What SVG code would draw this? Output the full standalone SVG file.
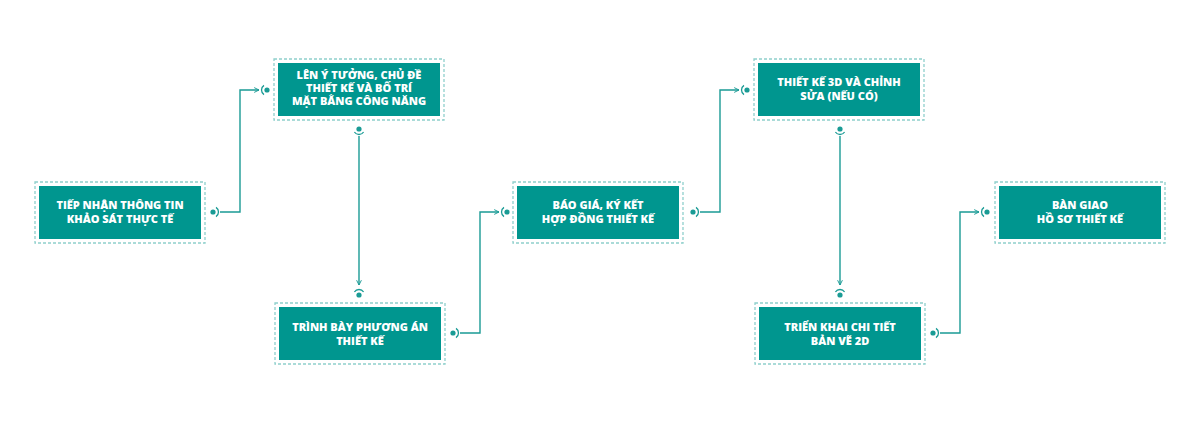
<svg xmlns="http://www.w3.org/2000/svg" xmlns:xlink="http://www.w3.org/1999/xlink" width="1200" height="425" viewBox="0 0 1200 425">
<style>
.outer{fill:none;stroke:#8fcfcc;stroke-width:1.3;stroke-dasharray:3 2}
.inner{fill:#00968f}
.lbl{font-family:"Open Sans","Liberation Sans",sans-serif;font-weight:800;font-size:11px;fill:#ffffff;text-anchor:middle}
.conn{fill:none;stroke:#1a9b95;stroke-width:1.4}
.port-dot{fill:#1a9b95}
.port-arc{fill:none;stroke:#1a9b95;stroke-width:1.3}
</style>
<defs>
<marker id="arr" viewBox="0 0 10 10" refX="9" refY="5" markerWidth="6" markerHeight="6" markerUnits="userSpaceOnUse" orient="auto">
<path d="M1,1 L9,5 L1,9" fill="none" stroke="#1a9b95" stroke-width="1.6"/>
</marker>
<g id="port">
<circle class="port-dot" cx="0" cy="0" r="2.6"/>
<path class="port-arc" d="M3,-4.6 A5.5,5.5 0 0 1 3,4.6"/>
</g>
</defs>
<rect width="1200" height="425" fill="#ffffff"/>
<g id="connectors">
<path class="conn" d="M220,212 H240 V90 H259" marker-end="url(#arr)"/>
<path class="conn" d="M359,136 V285" marker-end="url(#arr)"/>
<path class="conn" d="M460,333 H480 V212 H499" marker-end="url(#arr)"/>
<path class="conn" d="M700,212 H720 V90 H739" marker-end="url(#arr)"/>
<path class="conn" d="M840,136 V285" marker-end="url(#arr)"/>
<path class="conn" d="M940,333 H960 V212 H979" marker-end="url(#arr)"/>
<use xlink:href="#port" transform="translate(213,212)"/>
<use xlink:href="#port" transform="translate(267,90) rotate(180)"/>
<use xlink:href="#port" transform="translate(359,129) rotate(90)"/>
<use xlink:href="#port" transform="translate(359,295) rotate(-90)"/>
<use xlink:href="#port" transform="translate(453,333)"/>
<use xlink:href="#port" transform="translate(507,212) rotate(180)"/>
<use xlink:href="#port" transform="translate(693,212)"/>
<use xlink:href="#port" transform="translate(747,90) rotate(180)"/>
<use xlink:href="#port" transform="translate(840,129) rotate(90)"/>
<use xlink:href="#port" transform="translate(840,295) rotate(-90)"/>
<use xlink:href="#port" transform="translate(933,333)"/>
<use xlink:href="#port" transform="translate(987,212) rotate(180)"/>
</g>
<g id="n1">
<rect class="outer" x="35" y="182" width="170" height="61"/>
<rect class="inner" x="39" y="186" width="162" height="53"/>
<text class="lbl" x="120" y="209">TIẾP NHẬN THÔNG TIN</text>
<text class="lbl" x="120" y="222.5">KHẢO SÁT THỰC TẾ</text>
</g>
<g id="n2">
<rect class="outer" x="274" y="59" width="170" height="61"/>
<rect class="inner" x="278" y="63" width="162" height="53"/>
<text class="lbl" x="359" y="79">LÊN Ý TƯỞNG, CHỦ ĐỀ</text>
<text class="lbl" x="359" y="92">THIẾT KẾ VÀ BỐ TRÍ</text>
<text class="lbl" x="359" y="105">MẶT BẰNG CÔNG NĂNG</text>
</g>
<g id="n3">
<rect class="outer" x="275" y="303" width="170" height="61"/>
<rect class="inner" x="279" y="307" width="162" height="53"/>
<text class="lbl" x="360" y="331">TRÌNH BÀY PHƯƠNG ÁN</text>
<text class="lbl" x="360" y="344.5">THIẾT KẾ</text>
</g>
<g id="n4">
<rect class="outer" x="513" y="182" width="170" height="61"/>
<rect class="inner" x="517" y="186" width="162" height="53"/>
<text class="lbl" x="598" y="209">BÁO GIÁ, KÝ KẾT</text>
<text class="lbl" x="598" y="222.5">HỢP ĐỒNG THIẾT KẾ</text>
</g>
<g id="n5">
<rect class="outer" x="754" y="59" width="170" height="61"/>
<rect class="inner" x="758" y="63" width="162" height="53"/>
<text class="lbl" x="839" y="86">THIẾT KẾ 3D VÀ CHỈNH</text>
<text class="lbl" x="839" y="99.5">SỬA (NẾU CÓ)</text>
</g>
<g id="n6">
<rect class="outer" x="755" y="303" width="170" height="61"/>
<rect class="inner" x="759" y="307" width="162" height="53"/>
<text class="lbl" x="840" y="331">TRIỂN KHAI CHI TIẾT</text>
<text class="lbl" x="840" y="344.5">BẢN VẼ 2D</text>
</g>
<g id="n7">
<rect class="outer" x="995" y="182" width="170" height="61"/>
<rect class="inner" x="999" y="186" width="162" height="53"/>
<text class="lbl" x="1080" y="209">BÀN GIAO</text>
<text class="lbl" x="1080" y="222.5">HỒ SƠ THIẾT KẾ</text>
</g>
</svg>
